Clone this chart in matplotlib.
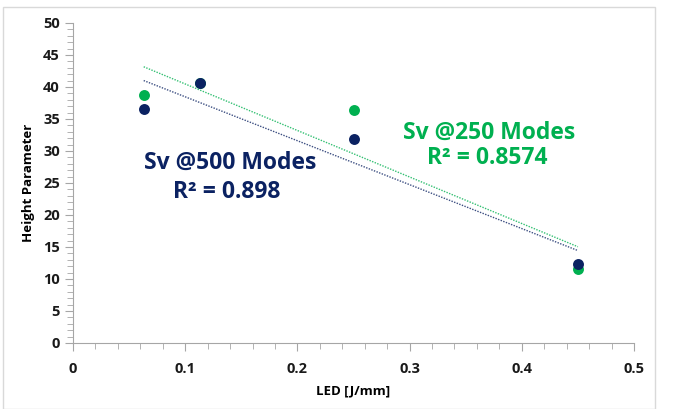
import numpy as np
import matplotlib
matplotlib.use("Agg")
import matplotlib.pyplot as plt
from matplotlib.patches import Rectangle
from matplotlib.ticker import MultipleLocator

# LED energy density vs. height parameter, two mode counts
led_500 = [0.063, 0.113, 0.25, 0.45]
sv_500 = [36.5, 40.6, 31.8, 12.3]
led_250 = [0.063, 0.113, 0.25, 0.45]
sv_250 = [38.7, 40.6, 36.4, 11.6]
r2_500 = "0.898"
r2_250 = "0.8574"

navy = "#0b2262"
green = "#00b050"

plt.rcParams['font.family'] = ['Open Sans', 'DejaVu Sans']
plt.rcParams['font.weight'] = 'bold'

fig = plt.figure(figsize=(6.73, 4.09), dpi=100)
ax = fig.add_axes([73 / 673, 1 - 343 / 409, 561 / 673, 320 / 409])

# light frame round the chart area
fig.patches.append(Rectangle((3 / 673, 0), 652 / 673, 1 - 7 / 409,
                             transform=fig.transFigure, fill=False,
                             edgecolor="#d9d9d9", lw=1))


def trend(x, y, color):
    k, b = np.polyfit(x, y, 1)
    xs = np.array([min(x), max(x)])
    ax.plot(xs, k * xs + b, color=color, lw=1, linestyle=(0, (1, 1)), alpha=0.8)


trend(led_250, sv_250, green)
trend(led_500, sv_500, navy)
ax.scatter(led_250, sv_250, s=62, color=green, zorder=3, linewidths=0)
ax.scatter(led_500, sv_500, s=62, color=navy, zorder=4, linewidths=0)

fs = 16.5
ax.text(0.140, 28.1, "Sv @500 Modes", color=navy, fontsize=fs,
        fontweight='bold', ha='center', va='center')
ax.text(0.137, 23.6, "R² = " + r2_500, color=navy, fontsize=fs,
        fontweight='bold', ha='center', va='center')
ax.text(0.371, 32.9, "Sv @250 Modes", color=green, fontsize=fs,
        fontweight='bold', ha='center', va='center')
ax.text(0.369, 28.9, "R² = " + r2_250, color=green, fontsize=fs,
        fontweight='bold', ha='center', va='center')

ax.set_xlim(0, 0.5)
ax.set_ylim(0, 50)
ax.xaxis.set_major_locator(MultipleLocator(0.1))
ax.xaxis.set_minor_locator(MultipleLocator(0.02))
ax.yaxis.set_major_locator(MultipleLocator(5))
ax.yaxis.set_minor_locator(MultipleLocator(1))
ax.set_xticks(np.arange(0, 0.51, 0.1))
ax.set_xticklabels(["0", "0.1", "0.2", "0.3", "0.4", "0.5"])

for s in ["top", "right"]:
    ax.spines[s].set_visible(False)
for s in ["left", "bottom"]:
    ax.spines[s].set_color("#a6a6a6")
ax.tick_params(which='major', length=6, color="#a6a6a6", labelsize=10.5,
               labelcolor="#1a1a1a")
ax.tick_params(which='minor', length=4, color="#a6a6a6")
ax.tick_params(axis='x', pad=8)
for lab in ax.get_xticklabels() + ax.get_yticklabels():
    lab.set_fontweight('bold')

ax.set_xlabel("LED [J/mm]", fontsize=9.5, fontweight='bold', labelpad=6)
ax.set_ylabel("Height Parameter", fontsize=9.5, fontweight='bold', labelpad=6)

fig.savefig("out.png", dpi=100)
plt.close()
